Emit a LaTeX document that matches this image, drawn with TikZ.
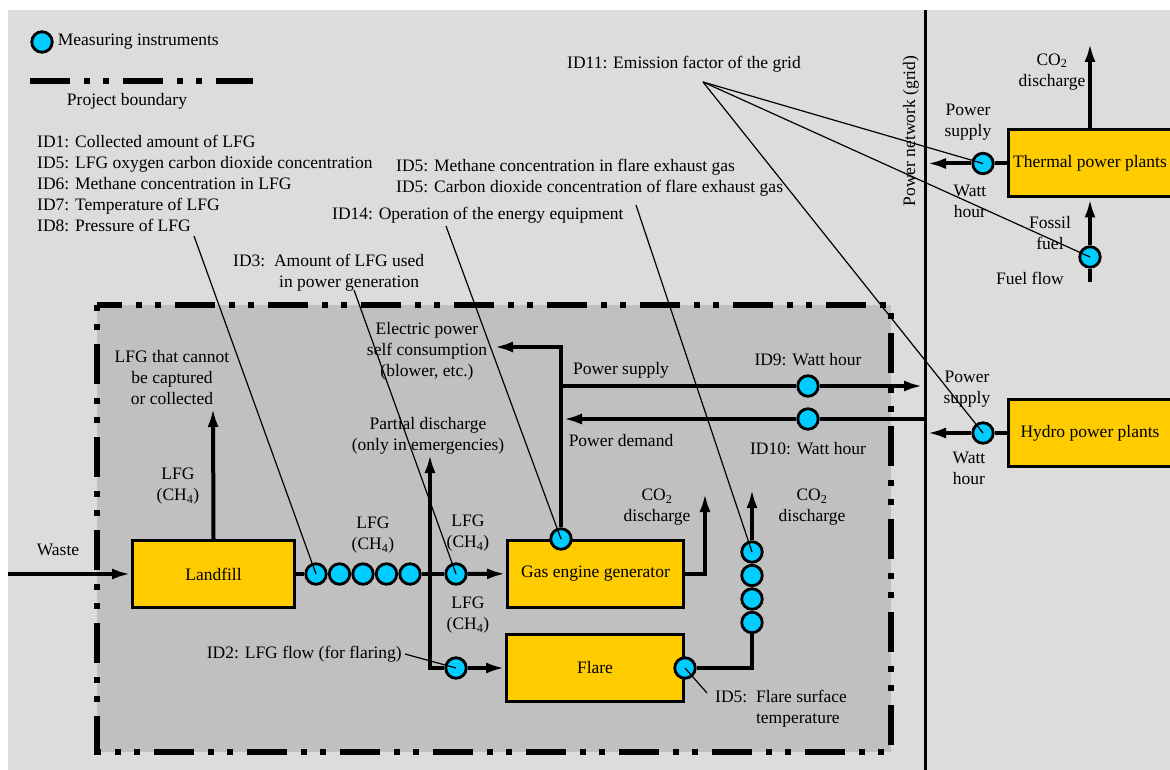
\documentclass[tikz,border=0pt]{standalone}
\usepackage{fontspec}
\setmainfont{Liberation Serif}
\usetikzlibrary{arrows.meta, positioning}
\definecolor{bggray}{RGB}{220,220,220}
\definecolor{zonegray}{RGB}{192,192,192}
\definecolor{metercyan}{RGB}{0,204,255}
\definecolor{plantyellow}{RGB}{255,204,0}

\begin{document}
\begin{tikzpicture}[x=1pt, y=-1pt, font=\fontsize{17.5}{21}\selectfont,
    meter/.style={circle, draw, line width=2.8pt, fill=metercyan, minimum size=20.5pt, inner sep=0pt},
    plant/.style={draw, line width=3pt, fill=plantyellow, minimum height=67pt, inner sep=0pt},
    flow/.style={line width=4pt, -{Latex[length=19pt, width=11pt]}},
    pipe/.style={line width=4pt},
    leader/.style={line width=1.2pt},
    lbl/.style={align=center, inner sep=0pt},
    boundary/.style={line width=5.5pt, dash pattern=on 40pt off 14pt on 6pt off 13pt on 6pt off 14pt}]

    % background and project boundary
    \useasboundingbox (0,0) rectangle (1170,770);
    \fill[white] (0,0) rectangle (1170,770);
    \fill[bggray] (8,10) rectangle (1170,770);
    \fill[zonegray] (97,305) rectangle (891,752);
    \draw[boundary, dash phase=54pt] (97,305) rectangle (891,752);

    % legend
    \node[meter] (legmeter) at (42,42) {};
    \node[inner sep=0pt, right=4pt of legmeter] (legmeas) {Measuring instruments};
    \coordinate (legA) at (30,81);
    \coordinate (legB) at (253,81);
    \draw[boundary] (legA) -- (legB);
    \node[inner sep=0pt] (legbound) at (127,101) {Project boundary};

    % power network
    \coordinate (gridtop) at (925,10);
    \coordinate (gridbot) at (925,770);
    \draw[line width=3pt] (gridtop) -- (gridbot);
    \node[rotate=90, inner sep=0pt] (gridlbl) at (911,131) {Power network (grid)};

    % plants
    \node[plant, minimum width=162pt] (landfill) at (213.5,574) {Landfill};
    \node[plant, minimum width=176pt] (gas) at (595.5,573.5) {Gas engine generator};
    \node[plant, minimum width=177pt] (flare) at (595,668) {Flare};
    \node[plant, minimum width=163pt] (thermal) at (1090,163.5) {Thermal power plants};
    \node[plant, minimum width=163pt] (hydro) at (1090,433) {Hydro power plants};

    % measuring instruments
    \foreach \i in {1,...,5}
        \node[meter] (c\i) at ({292.5+23.5*\i},574) {};
    \foreach \i in {1,...,4}
        \node[meter] (f\i) at (752,{528.5+23.5*\i}) {};
    \node[meter] (g1) at (456,574) {};
    \node[meter] (fl1) at (456,668) {};
    \node[meter] (gm) at (561,539) {};
    \node[meter] (fm) at (flare.east) {};
    \node[meter] (w9) at (808,386) {};
    \node[meter] (w10) at (808,419) {};
    \node[meter] (tm) at (983,163.5) {};
    \node[meter] (ffm) at (1090,257) {};
    \node[meter] (hm) at (983,433) {};

    % flows inside the boundary
    \coordinate (wastein) at (8,574);
    \coordinate (ventlfg) at (213,408);
    \coordinate (jct) at (430,574);
    \coordinate (jbot) at (430,668);
    \coordinate (jtop) at (430,454);
    \coordinate (gtop) at (561,347);
    \coordinate (selftip) at (494,347);
    \coordinate (psL) at (561,386);
    \coordinate (psR) at (923,386);
    \coordinate (pdR) at (925,419);
    \coordinate (pdL) at (563,419);
    \coordinate (gasvent) at (705,493);
    \coordinate (flarevent) at (752,489);

    \draw[flow] (wastein) -- (landfill);
    \draw[flow] (landfill.north) -- (ventlfg);
    \draw[pipe] (landfill) -- (c1);
    \draw[pipe] (c5) -- (jct) -- (g1);
    \draw[flow] (g1) -- (gas);
    \draw[flow] (fl1) -- (jbot) -- (jtop);
    \draw[flow] (fl1) -- (flare);
    \draw[flow] (gm) -- (gtop) -- (selftip);
    \draw[pipe] (psL) -- (w9);
    \draw[flow] (w9) -- (psR);
    \draw[pipe] (pdR) -- (w10);
    \draw[flow] (w10) -- (pdL);
    \draw[flow] (gas.east) -| (gasvent);
    \draw[pipe] (fm) -| (f4);
    \draw[flow] (f1) -- (flarevent);

    % flows outside the boundary
    \coordinate (gridT) at (927,163.5);
    \coordinate (gridH) at (927,433);
    \coordinate (tvent) at (1090,43);
    \coordinate (fuelin) at (1090,282);
    \draw[pipe] (thermal) -- (tm);
    \draw[flow] (tm) -- (gridT);
    \draw[flow] (thermal.north) -- (tvent);
    \draw[pipe] (fuelin) -- (ffm);
    \draw[flow] (ffm) -- (thermal);
    \draw[pipe] (hydro) -- (hm);
    \draw[flow] (hm) -- (gridH);

    % flow labels
    \node[lbl] (wastelbl) at (58,550) {Waste};
    \node[lbl] (uncap) at (172,378) {LFG that cannot\\be captured\\or collected};
    \node[lbl] (lfgup) at (178,486) {LFG\\(CH\textsubscript{4})};
    \node[lbl] (lfgchain) at (373,535) {LFG\\(CH\textsubscript{4})};
    \node[lbl] (lfggas) at (468,533) {LFG\\(CH\textsubscript{4})};
    \node[lbl] (lfgflare) at (468,615) {LFG\\(CH\textsubscript{4})};
    \node[lbl] (partial) at (428,436) {Partial discharge\\(only in emergencies)};
    \node[lbl] (selfcons) at (427,351) {Electric power\\self consumption\\(blower, etc.)};
    \node[lbl] (pslbl) at (621,370) {Power supply};
    \node[lbl] (pdlbl) at (621,441) {Power demand};
    \node[lbl] (id9) at (808,360) {ID9: Watt hour};
    \node[lbl] (id10) at (808,449) {ID10: Watt hour};
    \node[lbl] (gasco) at (657,507) {CO\textsubscript{2}\\discharge};
    \node[lbl] (flareco) at (812,507) {CO\textsubscript{2}\\discharge};
    \node[lbl] (thermco) at (1052,72) {CO\textsubscript{2}\\discharge};
    \node[lbl] (thermps) at (968,122) {Power\\supply};
    \node[lbl] (thermwh) at (970,201) {Watt\\hour};
    \node[lbl] (fossil) at (1050,233) {Fossil\\fuel};
    \node[lbl] (fuelflow) at (1030,278) {Fuel flow};
    \node[lbl] (hydrops) at (967,389) {Power\\supply};
    \node[lbl] (hydrowh) at (969,468) {Watt\\hour};

    % measured items
    \node[lbl, align=left, anchor=west] (lfglist) at (37,183)
        {ID1: Collected amount of LFG\\ID5: LFG oxygen carbon dioxide concentration\\ID6: Methane concentration in LFG\\ID7: Temperature of LFG\\ID8: Pressure of LFG};
    \node[lbl, anchor=west] (id11) at (567,64) {ID11: Emission factor of the grid};
    \node[lbl, align=left, anchor=west] (id5gas) at (396,177.5)
        {ID5: Methane concentration in flare exhaust gas\\ID5: Carbon dioxide concentration of flare exhaust gas};
    \node[lbl, anchor=west] (id14) at (332,215) {ID14: Operation of the energy equipment};
    \node[lbl, anchor=west] (id3) at (233,272.5)
        {\begin{tabular}{@{}l@{\ \ }c@{}}ID3: & Amount of LFG used\\ & in power generation\end{tabular}};
    \node[lbl, anchor=east] (id2) at (402,654) {ID2: LFG flow (for flaring)};
    \node[lbl, anchor=west] (id5surf) at (715,708.5)
        {\begin{tabular}{@{}l@{\ \ }l@{}}ID5: & Flare surface\\ & temperature\end{tabular}};

    % leaders
    \coordinate (id1pt) at (194,236);
    \coordinate (id3pt) at (354,290);
    \coordinate (id14pt) at (446,226);
    \coordinate (id5pt) at (636,205);
    \coordinate (id11pt) at (703,82);
    \coordinate (id2pt) at (405,654);
    \coordinate (id5spt) at (707,693);
    \draw[leader] (id1pt) -- (c1.center);
    \draw[leader] (id3pt) -- (g1.center);
    \draw[leader] (id14pt) -- (gm.center);
    \draw[leader] (id5pt) -- (f1.center);
    \draw[leader] (id11pt) -- (tm.center);
    \draw[leader] (id11pt) -- (ffm.center);
    \draw[leader] (id11pt) -- (hm.center);
    \draw[leader] (id2pt) -- (fl1.center);
    \draw[leader] (id5spt) -- (fm.center);

\end{tikzpicture}
\end{document}
